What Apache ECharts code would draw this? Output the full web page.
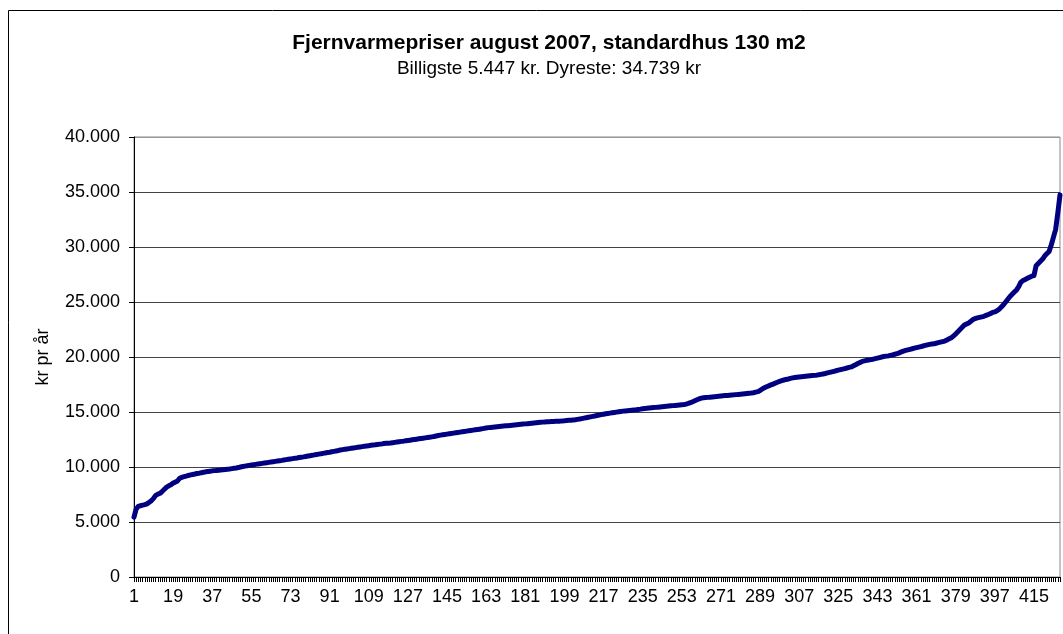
<!DOCTYPE html>
<html>
<head>
<meta charset="utf-8">
<script src="https://cdn.jsdelivr.net/npm/echarts@6/dist/echarts.min.js"></script>
<style>
  html, body { margin: 0; padding: 0; background: #fff; }
  #main { width: 1063px; height: 634px; }
</style>
</head>
<body>
<div id="main"></div>
<script>
// priser pr. værk, sorteret (kr pr år)
var prices = [
  5447, 6180, 6420, 6480, 6530, 6580, 6650, 6790, 6940, 7150, 7420, 7530, 7610, 7790, 7980, 8170, 8290, 8390,
  8540, 8620, 8730, 8980, 9060, 9120, 9170, 9230, 9280, 9320, 9360, 9410, 9440, 9480, 9520, 9560, 9590, 9620,
  9650, 9670, 9690, 9710, 9730, 9760, 9780, 9800, 9820, 9850, 9880, 9910, 9950, 10000, 10040, 10080, 10110, 10150,
  10180, 10210, 10240, 10270, 10300, 10330, 10360, 10390, 10420, 10450, 10480, 10510, 10540, 10570, 10600, 10640, 10670, 10700,
  10730, 10760, 10790, 10820, 10860, 10890, 10920, 10960, 11000, 11030, 11060, 11100, 11140, 11170, 11200, 11240, 11280, 11310,
  11340, 11380, 11420, 11460, 11500, 11550, 11580, 11610, 11640, 11670, 11700, 11730, 11760, 11790, 11820, 11850, 11880, 11910,
  11940, 11970, 12000, 12020, 12050, 12080, 12100, 12130, 12150, 12170, 12180, 12210, 12240, 12270, 12300, 12330, 12350, 12380,
  12410, 12440, 12470, 12500, 12530, 12560, 12590, 12620, 12650, 12680, 12710, 12740, 12770, 12820, 12860, 12900, 12930, 12960,
  12990, 13020, 13050, 13080, 13110, 13140, 13170, 13200, 13230, 13260, 13290, 13320, 13350, 13380, 13410, 13440, 13470, 13510,
  13550, 13580, 13600, 13620, 13640, 13660, 13680, 13700, 13720, 13740, 13760, 13780, 13800, 13820, 13840, 13860, 13880, 13900,
  13920, 13940, 13960, 13980, 14000, 14020, 14040, 14060, 14080, 14100, 14110, 14120, 14130, 14140, 14150, 14160, 14170, 14190,
  14200, 14220, 14240, 14260, 14280, 14300, 14330, 14360, 14400, 14440, 14480, 14520, 14560, 14600, 14640, 14680, 14720, 14760,
  14800, 14840, 14870, 14900, 14930, 14960, 14990, 15020, 15050, 15080, 15100, 15120, 15140, 15160, 15180, 15200, 15230, 15260,
  15300, 15320, 15340, 15360, 15380, 15400, 15420, 15440, 15460, 15480, 15500, 15520, 15540, 15560, 15580, 15600, 15620, 15640,
  15660, 15680, 15720, 15780, 15850, 15930, 16020, 16110, 16190, 16260, 16290, 16310, 16330, 16350, 16370, 16390, 16410, 16430,
  16450, 16470, 16490, 16510, 16530, 16550, 16560, 16580, 16600, 16620, 16640, 16660, 16680, 16700, 16720, 16750, 16800, 16850,
  16950, 17100, 17200, 17300, 17380, 17460, 17540, 17620, 17700, 17780, 17850, 17910, 17960, 18000, 18050, 18100, 18130, 18160,
  18190, 18210, 18230, 18250, 18270, 18290, 18310, 18330, 18350, 18380, 18420, 18460, 18500, 18550, 18600, 18650, 18700, 18750,
  18800, 18850, 18900, 18950, 19000, 19050, 19100, 19200, 19300, 19400, 19500, 19600, 19650, 19700, 19730, 19760, 19800, 19850,
  19900, 19950, 20000, 20050, 20080, 20100, 20150, 20200, 20250, 20300, 20380, 20460, 20540, 20600, 20650, 20700, 20750, 20800,
  20850, 20900, 20950, 21000, 21050, 21100, 21150, 21180, 21200, 21250, 21300, 21350, 21400, 21450, 21550, 21650, 21750, 21900,
  22100, 22300, 22500, 22700, 22900, 23000, 23100, 23250, 23400, 23500, 23550, 23600, 23650, 23700, 23780, 23860, 23940, 24050,
  24100, 24200, 24350, 24550, 24750, 25000, 25250, 25500, 25700, 25900, 26100, 26400, 26800, 26950, 27050, 27150, 27250, 27350,
  27400, 28300, 28500, 28700, 28900, 29200, 29400, 29600, 30200, 30900, 31600, 33100, 34739
];
// løbenumre 1..N
var categories = prices.map(function (v, i) { return String(i + 1); });
var yTicks = [0, 5000, 10000, 15000, 20000, 25000, 30000, 35000, 40000];

var titleText = 'Fjernvarmepriser august 2007, standardhus 130 m2';
var subText = 'Billigste 5.447 kr. Dyreste: 34.739 kr';
var yName = 'kr pr år';

function fmt(v) {
  return String(v).replace(/\B(?=(\d{3})+(?!\d))/g, '.');
}

var chart = echarts.init(document.getElementById('main'));
var font = '"Liberation Sans", Arial, sans-serif';

chart.setOption({
  animation: false,
  backgroundColor: '#fff',
  textStyle: { fontFamily: font },
  graphic: [{
    type: 'rect',
    shape: { x: 8.5, y: 10.5, width: 1100, height: 700 },
    style: { fill: 'none', stroke: '#000', lineWidth: 1 },
    silent: true
  }],
  title: {
    text: titleText,
    subtext: subText,
    left: 544,
    textAlign: 'center',
    top: 28,
    itemGap: 5,
    textStyle: { fontFamily: font, fontSize: 21, fontWeight: 'bold', color: '#000' },
    subtextStyle: { fontFamily: font, fontSize: 19, color: '#000' }
  },
  grid: {
    left: 134, right: 3, top: 137, bottom: 57,
    show: true, borderColor: '#888', borderWidth: 1,
    containLabel: false
  },
  xAxis: {
    type: 'category',
    data: categories,
    boundaryGap: false,
    axisLine: { lineStyle: { color: '#000', width: 1 } },
    axisTick: { show: true, interval: 0, length: 5, lineStyle: { color: '#000' } },
    axisLabel: { interval: 17, color: '#000', fontSize: 18, margin: 11, fontFamily: font },
    splitLine: { show: false }
  },
  yAxis: {
    type: 'value',
    min: yTicks[0],
    max: yTicks[yTicks.length - 1],
    interval: yTicks[1] - yTicks[0],
    name: yName,
    nameLocation: 'middle',
    nameRotate: 90,
    nameGap: 82,
    nameTextStyle: { color: '#000', fontSize: 18, fontFamily: font },
    axisLine: { show: true, lineStyle: { color: '#000', width: 1 } },
    axisTick: { show: true, length: 5, lineStyle: { color: '#000' } },
    axisLabel: { color: '#000', fontSize: 18, margin: 14, fontFamily: font, formatter: fmt },
    splitLine: { show: true, lineStyle: { color: ['#444', '#444', '#444', '#444', '#444', '#444', '#444', '#444', '#999'], width: 1 } }
  },
  series: [{
    type: 'line',
    data: prices,
    showSymbol: false,
    symbol: 'none',
    lineStyle: { color: '#000080', width: 5, join: 'round', cap: 'round' },
    itemStyle: { color: '#000080' }
  }]
});
</script>
</body>
</html>
